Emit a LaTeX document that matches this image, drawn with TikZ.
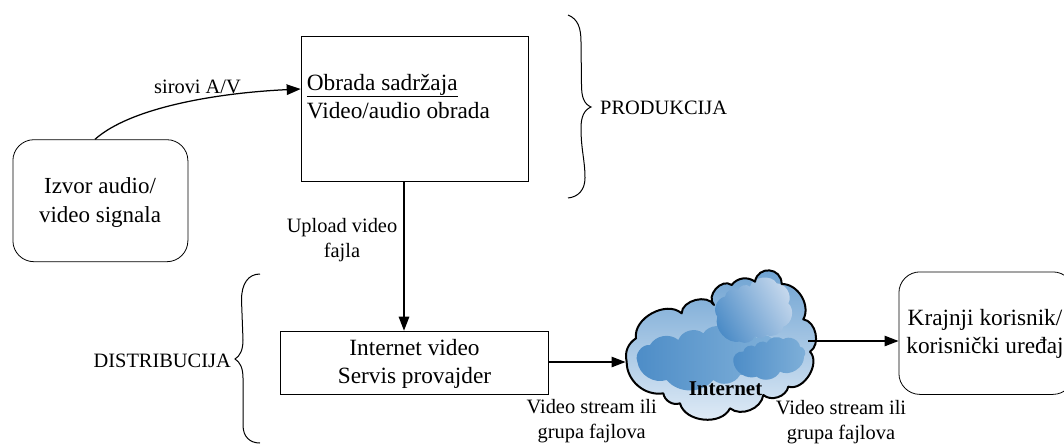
\documentclass[tikz,border=0pt]{standalone}
\usepackage{fontspec}
\setmainfont{Liberation Serif}
\usetikzlibrary{arrows.meta}
\definecolor{cloudtop}{rgb}{0.42,0.63,0.82}
\definecolor{cloudmid}{rgb}{0.60,0.75,0.88}
\definecolor{cloudlow}{rgb}{0.89,0.93,0.97}
\definecolor{blobdark}{rgb}{0.30,0.55,0.78}
\definecolor{blobmid}{rgb}{0.50,0.69,0.85}
\definecolor{bloblight}{rgb}{0.78,0.85,0.93}
\tikzset{
  x=1pt,y=-1pt,
  conn/.style={draw=black,line width=1.25pt,-{Triangle[length=14pt,width=10.5pt]}},
  boxa/.style={draw=black,line width=1.1pt,anchor=north west,inner sep=0pt},
  roundbox/.style={draw=black,line width=0.8pt,rounded corners=21pt,anchor=north west,inner sep=0pt},
  big/.style={font=\fontsize{23.3}{28}\selectfont,align=center,inner sep=0pt,anchor=base},
  lab/.style={font=\fontsize{20.4}{25}\selectfont,align=center,inner sep=0pt,anchor=base},
  brace/.style={draw=black,line width=1pt},
  cloudedge/.style={draw=black,line width=2pt,line join=round}
}
\newcommand{\cloudpath}{(80,335) to[bend left=35] (108,265) to[bend left=70] (245,190) to[bend left=75] (342,165) to[bend left=85,looseness=1.2] (395,105) to[bend left=45] (465,95) to[bend left=85,looseness=1.6] (545,102) to[bend left=60] (610,208) to[bend left=70] (630,305) to[bend left=75] (565,410) to[bend left=60] (490,435) to[bend left=60] (390,475) to[bend left=70] (240,460) to[bend left=50] (190,430) to[bend left=50] (80,335) -- cycle}
\begin{document}
\begin{tikzpicture}
\useasboundingbox (0,0) rectangle (1064,444);
% boxes
\node[roundbox,minimum width=175pt,minimum height=122pt] (src) at (12.5,139.3) {};
\node[big,font=\fontsize{23}{29}\selectfont] (srctxt) at (100,222) {Izvor audio/\\video signala};
\node[boxa,minimum width=227pt,minimum height=145pt] (proc) at (300.7,36) {};
\node[big,anchor=base west,align=left] (proctxt) at (306.7,118) {\underline{Obrada sadržaja}\\Video/audio obrada};
\node[boxa,minimum width=268pt,minimum height=63pt] (serv) at (280.3,330.7) {};
\node[big] (servtxt) at (414.5,383) {Internet video\\Servis provajder};
\node[roundbox,minimum width=175pt,minimum height=122.5pt] (user) at (898.5,271.5) {};
\node[big] (usertxt) at (985,353) {Krajnji korisnik/\\korisnički uređaj};
% cloud
\begin{scope}[shift={(600,250)},scale=0.3333]
\shade[top color=cloudtop,middle color=cloudmid,bottom color=cloudlow] \cloudpath;
\shade[left color=blobdark,right color=blobmid]
  (112,335) to[bend left=60] (150,285) to[bend left=50] (235,270) to[bend left=55] (310,250) to[bend left=55] (390,245) to[bend left=60] (470,265) to[bend left=70] (520,275) to[bend left=40] (420,375) to[bend left=50] (340,390) to[bend left=50] (200,390) to[bend left=50] (112,335) -- cycle;
\shade[left color=blobdark,right color=bloblight,shading angle=120]
  (352,200) to[bend left=60] (375,140) to[bend left=60] (415,120) to[bend left=60] (450,110) to[bend left=70] (530,100) to[bend left=60] (565,160) to[bend left=60] (550,230) to[bend left=50] (500,255) to[bend left=50] (465,258) to[bend left=50] (420,275) to[bend left=60] (352,200) -- cycle;
\shade[left color=blobdark,right color=blobmid]
  (400,335) to[bend left=60] (430,305) to[bend left=60] (465,290) to[bend left=50] (500,278) to[bend left=50] (550,268) to[bend left=60] (600,290) to[bend left=70] (612,320) to[bend left=60] (540,365) to[bend left=50] (470,380) to[bend left=50] (400,335) -- cycle;
\draw[cloudedge] \cloudpath;
\end{scope}
\coordinate (cloudin) at (625.5,362);
\coordinate (cloudout) at (808,341);
\node[font=\fontsize{21}{24}\selectfont\bfseries,inner sep=0pt,anchor=base] (inet) at (725.5,395) {Internet};
% connectors
\draw[conn] (src.north west) ++(82.5,0) .. controls (130,108) and (215,93) .. (proc.west |- 0,89);
\draw[conn] (proc.south -| 404,0) -- (serv.north -| 404,0);
\draw[conn] (serv.east |- 0,362) -- (cloudin);
\draw[conn] (cloudout) -- (user.west |- 0,341);
% labels
\node[lab] (l1) at (197.5,93) {sirovi A/V};
\node[lab] (l2) at (342,257) {Upload video\\fajla};
\node[lab] (l3) at (591.7,438) {Video stream ili\\grupa fajlova};
\node[lab] (l4) at (841,439.5) {Video stream ili\\grupa fajlova};
\node[lab,anchor=base west] (l5) at (600,114) {PRODUKCIJA};
\node[lab,anchor=base east] (l6) at (231,367) {DISTRIBUCIJA};
% braces
\draw[brace] (568,15) .. controls (578,19) and (581,28) .. (581,42) -- (581.5,85) .. controls (581.5,97) and (584,104) .. (591,107) .. controls (584,110) and (581,117) .. (581,128) .. controls (581,150) and (585,160) .. (585,178) .. controls (585,190) and (578,197) .. (568,198);
\draw[brace] (260,274) .. controls (248,274) and (241.5,284) .. (241.5,300) -- (243,340) .. controls (243,350) and (240,356) .. (235,359) .. controls (240,362) and (243,368) .. (243,378) -- (243,425) .. controls (243,437) and (250,443) .. (260,443);
\end{tikzpicture}
\end{document}
